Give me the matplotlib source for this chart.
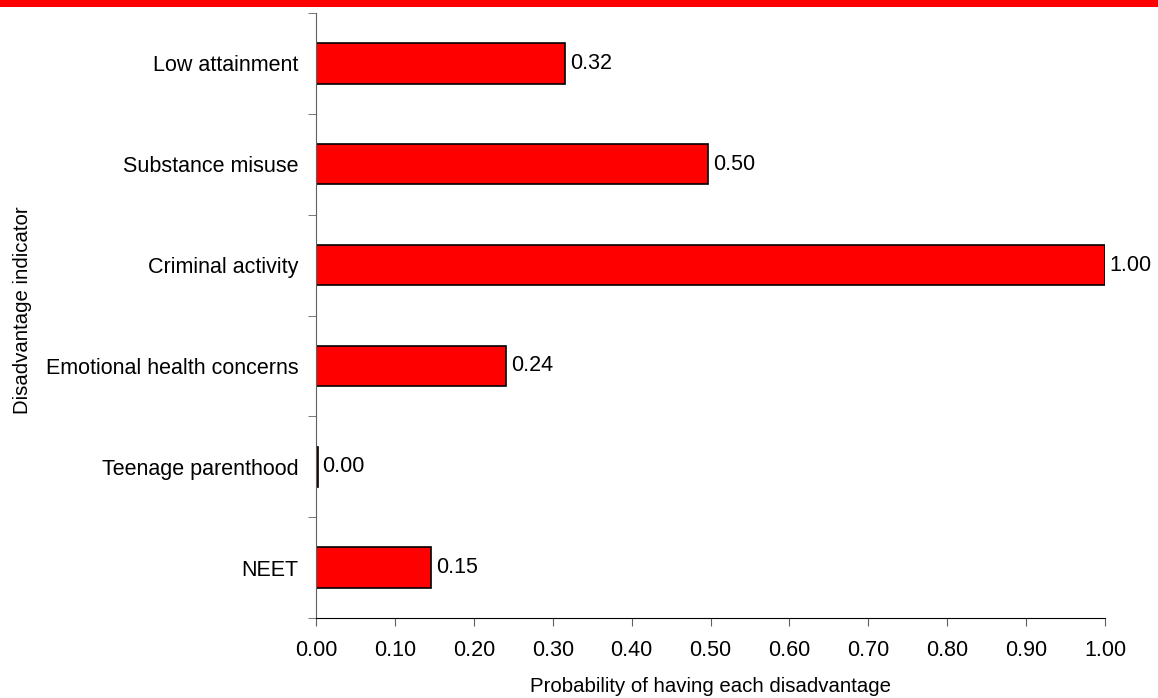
import matplotlib
matplotlib.use("Agg")
import matplotlib.pyplot as plt
import numpy as np
from matplotlib.patches import Rectangle

# data, top to bottom as shown
CATEGORIES = [
    "Low attainment",
    "Substance misuse",
    "Criminal activity",
    "Emotional health concerns",
    "Teenage parenthood",
    "NEET",
]
PROBS = [0.316, 0.497, 1.0, 0.241, 0.002, 0.146]
LABELS = ["0.32", "0.50", "1.00", "0.24", "0.00", "0.15"]
X_TICKS = [0.0, 0.1, 0.2, 0.3, 0.4, 0.5, 0.6, 0.7, 0.8, 0.9, 1.0]

RED = "#FF0000"
FONT = "Liberation Sans"
FS = 15.5
FS_TITLE = 14.7


def main():
    plt.rcParams["font.family"] = [FONT, "DejaVu Sans"]
    fig = plt.figure(figsize=(11.58, 6.98), dpi=100)

    # red band across the top
    fig.patches.append(Rectangle((0, 1 - 7 / 698), 1, 7 / 698, transform=fig.transFigure,
                                 facecolor=RED, edgecolor="none"))

    ax = fig.add_axes([316 / 1158, 1 - 618 / 698, (1105 - 316) / 1158, (618 - 13) / 698])
    n = len(CATEGORIES)
    ypos = np.arange(n)[::-1]
    ax.barh(ypos, PROBS, height=0.4, color=RED, edgecolor="black", linewidth=1.2)

    for y, v, lab in zip(ypos, PROBS, LABELS):
        ax.text(v + 0.006, y, lab, va="center", ha="left", fontsize=FS)

    ax.set_xlim(0, 1.0)
    ax.set_ylim(-0.5, n - 0.5)
    ax.set_xticks(X_TICKS)
    ax.set_xticklabels([f"{t:.2f}" for t in X_TICKS], fontsize=FS)
    ax.set_yticks(ypos)
    ax.set_yticklabels(CATEGORIES, fontsize=FS)
    ax.set_yticks(np.arange(n + 1) - 0.5, minor=True)
    ax.tick_params(axis="y", which="major", length=0, pad=12.5)
    ax.tick_params(axis="y", which="minor", length=6, color="#606060", direction="out")
    ax.tick_params(axis="x", length=6, color="#606060", pad=10)

    for side in ["top", "right"]:
        ax.spines[side].set_visible(False)
    ax.spines["left"].set_color("#606060")
    ax.spines["bottom"].set_color("black")
    ax.spines["bottom"].set_bounds(0, 1.0)

    ax.set_xlabel("Probability of having each disadvantage", fontsize=FS_TITLE)
    ax.xaxis.set_label_coords(0.5, -0.0983)
    ax.set_ylabel("Disadvantage indicator", fontsize=FS_TITLE)
    ax.yaxis.set_label_coords(-0.3602, 0.509)

    fig.savefig("out.png", dpi=100)
    plt.close(fig)


if __name__ == "__main__":
    main()
